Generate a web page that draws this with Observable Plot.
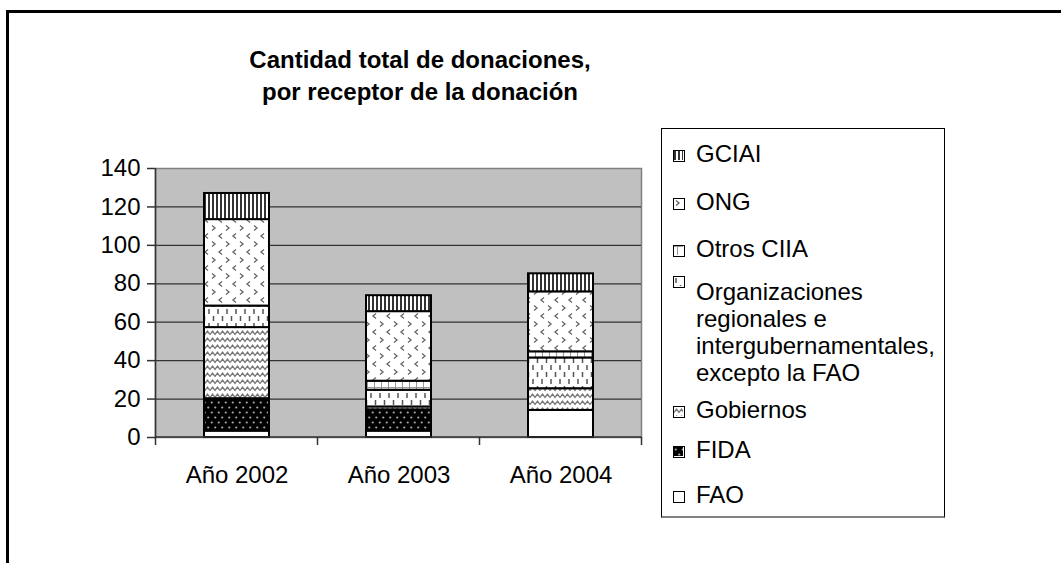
<!DOCTYPE html>
<html><head><meta charset="utf-8">
<script src="https://cdn.jsdelivr.net/npm/d3@7"></script>
<script src="https://cdn.jsdelivr.net/npm/@observablehq/plot@0.6"></script>
<style>
body{margin:0;width:1061px;height:563px;overflow:hidden;background:#fff;font-family:"Liberation Sans",Arial,sans-serif;position:relative}
#frame{position:absolute;left:6px;top:10px;width:1200px;height:700px;border:3px solid #000;box-sizing:border-box}
#title{position:absolute;left:120px;width:600px;top:44px;text-align:center;font-weight:bold;font-size:24px;line-height:32px;color:#000}
#chart{position:absolute;left:0;top:0}
#legend{position:absolute;left:661px;top:128px;width:284px;height:390px;border:1px solid #000;border-bottom:2px solid #808080;box-sizing:border-box;background:#fff}
.item{position:absolute;left:0;font-size:24px;line-height:27px;color:#000}
.item .sw{position:absolute;left:11px;width:12px;height:12px;border:1.5px solid #000;box-sizing:border-box}
.item .tx{position:absolute;left:34px;white-space:nowrap}
</style>
</head><body>
<svg width="0" height="0" style="position:absolute">
<defs>
<pattern id="p-gciai" width="4" height="4" patternUnits="userSpaceOnUse"><rect width="4" height="4" fill="#fff"/><rect x="0" width="2" height="4" fill="#333"/></pattern>
<pattern id="p-ong" width="14" height="16" patternUnits="userSpaceOnUse"><rect width="14" height="16" fill="#fff"/>
<path d="M2,1.5 L5,4 L2,6.5 M12,9.5 L9,12 L12,14.5" fill="none" stroke="#666" stroke-width="1.3"/></pattern>
<pattern id="p-otros" width="7" height="9" patternUnits="userSpaceOnUse"><rect width="7" height="9" fill="#fff"/><path d="M3.5,0 V9 M0,0.5 H7" stroke="#999" stroke-width="1"/></pattern>
<pattern id="p-org" width="9" height="14" patternUnits="userSpaceOnUse"><rect width="9" height="14" fill="#fff"/><path d="M2,1 V6 M6.5,8 V13" stroke="#555" stroke-width="1.5"/></pattern>
<pattern id="p-gob" width="10" height="7" patternUnits="userSpaceOnUse"><rect width="10" height="7" fill="#fff"/><path d="M0,5.5 L2.5,2 L5,5.5 L7.5,2 L10,5.5" fill="none" stroke="#777" stroke-width="1.3"/></pattern>
<pattern id="p-fida" width="7" height="10" patternUnits="userSpaceOnUse"><rect width="7" height="10" fill="#000"/><circle cx="1.75" cy="2.5" r="1.1" fill="#aaa"/><circle cx="5.25" cy="7.5" r="1.1" fill="#aaa"/></pattern>
<pattern id="p-fao" width="4" height="4" patternUnits="userSpaceOnUse"><rect width="4" height="4" fill="#fff"/></pattern>
</defs>
</svg>
<div id="frame"></div>
<div id="title">Cantidad total de donaciones,<br>por receptor de la donación</div>
<div id="chart"></div>
<div id="legend"></div>
<script>
// ---- data ----
const years = ["Año 2002", "Año 2003", "Año 2004"];
const series = ["FAO", "FIDA", "Gobiernos", "Organizaciones regionales e intergubernamentales, excepto la FAO", "Otros CIIA", "ONG", "GCIAI"];
const faoValues = [3.3, 3.3, 14.1];
const fidaValues = [16.9, 11.1, 0];
const gobiernosValues = [37, 1.5, 11.3];
const orgRegValues = [11.2, 8.7, 16];
const otrosCiiaValues = [0, 4.7, 3.2];
const ongValues = [45, 36.2, 31.2];
const gciaiValues = [13.6, 8.3, 9.4];
const yTicks = [0, 20, 40, 60, 80, 100, 120, 140];
const legendOrder = ["GCIAI", "ONG", "Otros CIIA", "Organizaciones\nregionales e\nintergubernamentales,\nexcepto la FAO", "Gobiernos", "FIDA", "FAO"];

// ---- build table ----
const valueLists = [faoValues, fidaValues, gobiernosValues, orgRegValues, otrosCiiaValues, ongValues, gciaiValues];
const table = [];
years.forEach((y, i) => series.forEach((s, j) => table.push({year: y, serie: s, value: valueLists[j][i]})));
const patternIds = ["p-fao", "p-fida", "p-gob", "p-org", "p-otros", "p-ong", "p-gciai"];

const chart = Plot.plot({
  width: 700, height: 520,
  marginLeft: 155, marginRight: 59, marginTop: 168, marginBottom: 83,
  style: {background: "transparent", fontFamily: "Liberation Sans, Arial, sans-serif", fontSize: "24px", color: "#000"},
  x: {domain: years, paddingInner: 0.6, paddingOuter: 0.3, axis: null, label: null},
  y: {domain: [0, 140], axis: null, label: null},
  color: {domain: series, range: patternIds.map(id => `url(#${id})`)},
  marks: [
    Plot.frame({fill: "#c0c0c0", stroke: "#808080", strokeWidth: 1.5}),
    Plot.ruleY(yTicks.slice(1, -1), {stroke: "#333", strokeWidth: 1.3}),
    Plot.barY(table.filter(d => d.value > 0), {x: "year", y: "value", fill: "serie", stroke: "#000", strokeWidth: 2}),
    Plot.axisY({ticks: yTicks, tickSize: 8, tickPadding: 7, fontSize: 24, label: null, stroke: "#333", strokeWidth: 1.5, fill: "#000"}),
    Plot.axisX({tickSize: 0, tickPadding: 28, fontSize: 24, label: null, fill: "#000"})
  ]
});
document.getElementById("chart").appendChild(chart);

// axis lines and category boundary ticks, placed with the plot's own scales
const sx = chart.scale("x"), sy = chart.scale("y");
const svg = d3.select(chart);
const y0 = sy.apply(0), yTop = sy.apply(140);
const gap = (sx.step - sx.bandwidth) / 2;
const bounds = [sx.apply(years[0]) - gap, ...years.map(d => sx.apply(d) + sx.bandwidth + gap)];
svg.append("line").attr("x1", bounds[0]).attr("x2", bounds[0]).attr("y1", yTop).attr("y2", y0 + 8).attr("stroke", "#333").attr("stroke-width", 1.5);
svg.append("line").attr("x1", bounds[0]).attr("x2", bounds[bounds.length - 1]).attr("y1", y0).attr("y2", y0).attr("stroke", "#333").attr("stroke-width", 1.5);
bounds.slice(1).forEach(b => svg.append("line").attr("x1", b).attr("x2", b).attr("y1", y0).attr("y2", y0 + 8).attr("stroke", "#333").attr("stroke-width", 1.5));

// legend
const legend = document.getElementById("legend");
const legendCenters = [24, 72, 119, 162, 280, 320, 365];
const legendPat = {"GCIAI": "p-gciai", "ONG": "p-ong", "Otros CIIA": "p-otros", "Gobiernos": "p-gob", "FIDA": "p-fida", "FAO": "p-fao"};
legendOrder.forEach((name, i) => {
  const lines = name.split("\n");
  const it = document.createElement("div");
  it.className = "item";
  it.style.top = (legendCenters[i] - 13.5) + "px";
  const sw = document.createElement("div");
  sw.className = "sw";
  sw.style.top = lines.length > 1 ? "-2px" : "10px";
  const pid = legendPat[name] || "p-org";
  sw.innerHTML = `<svg width="9" height="9" style="display:block"><rect width="9" height="9" fill="url(#${pid})"/></svg>`;
  const tx = document.createElement("div");
  tx.className = "tx";
  tx.innerHTML = lines.join("<br>");
  it.appendChild(sw); it.appendChild(tx);
  legend.appendChild(it);
});
</script>
</body></html>
